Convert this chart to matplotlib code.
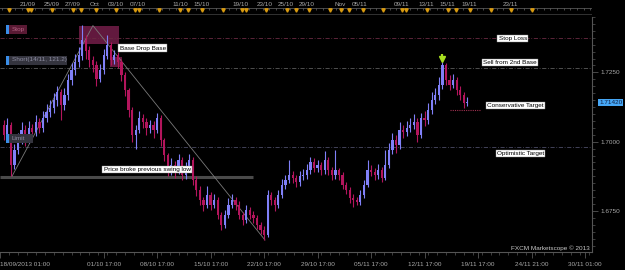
import numpy as np
import matplotlib
matplotlib.use("Agg")
import matplotlib.pyplot as plt
from matplotlib.patches import Rectangle

# ---------------- data (8h candles) ----------------
close = [1.7023, 1.7059, 1.6915, 1.6969, 1.7005, 1.7041, 1.7005, 1.7048, 1.7034, 1.7070,
         1.7048, 1.7084, 1.7106, 1.7120, 1.7149, 1.7178, 1.7131, 1.7167, 1.7221, 1.7257,
         1.7286, 1.7311, 1.7365, 1.7329, 1.7293, 1.7275, 1.7228, 1.7257, 1.7311, 1.7347,
         1.7293, 1.7311, 1.7286, 1.7239, 1.7185, 1.7113, 1.7023, 1.7041, 1.7084, 1.7070,
         1.7048, 1.7059, 1.7041, 1.7084, 1.7005, 1.6951, 1.6897, 1.6915, 1.6897, 1.6933,
         1.6879, 1.6904, 1.6933, 1.6861, 1.6825, 1.6789, 1.6771, 1.6807, 1.6771, 1.6789,
         1.6735, 1.6699, 1.6735, 1.6771, 1.6789, 1.6771, 1.6735, 1.6717, 1.6753, 1.6735,
         1.6724, 1.6699, 1.6681, 1.6663, 1.6807, 1.6789, 1.6771, 1.6807, 1.6843, 1.6861,
         1.6879, 1.6868, 1.6854, 1.6875, 1.6879, 1.6897, 1.6926, 1.6904, 1.6915, 1.6897,
         1.6933, 1.6897, 1.6879, 1.6897, 1.6879, 1.6843, 1.6825, 1.6796, 1.6789, 1.6782,
         1.6807, 1.6843, 1.6897, 1.6890, 1.6879, 1.6897, 1.6868, 1.6915, 1.6969, 1.7005,
         1.6987, 1.7041, 1.7034, 1.7048, 1.7059, 1.7070, 1.7023, 1.7084, 1.7077, 1.7113,
         1.7149, 1.7167, 1.7203, 1.7275, 1.7221, 1.7203, 1.7221, 1.7185, 1.7167, 1.7138,
         1.7142]
high = [1.7080, 1.7085, 1.7070, 1.6990, 1.7030, 1.7070, 1.7060, 1.7075, 1.7065, 1.7095,
        1.7085, 1.7110, 1.7135, 1.7150, 1.7175, 1.7200, 1.7190, 1.7195, 1.7245, 1.7285,
        1.7315, 1.7340, 1.7420, 1.7385, 1.7345, 1.7310, 1.7290, 1.7280, 1.7335, 1.7385,
        1.7360, 1.7330, 1.7325, 1.7300, 1.7250, 1.7195, 1.7125, 1.7060, 1.7110, 1.7100,
        1.7085, 1.7080, 1.7075, 1.7105, 1.7095, 1.7015, 1.6960, 1.6940, 1.6930, 1.6955,
        1.6945, 1.6925, 1.6955, 1.6945, 1.6875, 1.6840, 1.6800, 1.6840, 1.6820, 1.6810,
        1.6800, 1.6745, 1.6755, 1.6795, 1.6810, 1.6800, 1.6785, 1.6745, 1.6770, 1.6765,
        1.6750, 1.6735, 1.6710, 1.6695, 1.6825, 1.6820, 1.6800, 1.6825, 1.6865, 1.6880,
        1.6935, 1.6895, 1.6880, 1.6895, 1.6900, 1.6920, 1.6945, 1.6940, 1.6935, 1.6925,
        1.6965, 1.6945, 1.6910, 1.6970, 1.6905, 1.6890, 1.6855, 1.6835, 1.6810, 1.6800,
        1.6825, 1.6860, 1.6935, 1.6915, 1.6905, 1.6920, 1.6910, 1.6970, 1.6995, 1.7030,
        1.7025, 1.7070, 1.7060, 1.7075, 1.7085, 1.7100, 1.7085, 1.7105, 1.7110, 1.7140,
        1.7180, 1.7195, 1.7235, 1.7286, 1.7285, 1.7240, 1.7245, 1.7235, 1.7200, 1.7180,
        1.7160]
low = [1.7005, 1.7000, 1.6876, 1.6900, 1.6955, 1.6990, 1.6985, 1.6995, 1.7010, 1.7020,
       1.7030, 1.7035, 1.7070, 1.7090, 1.7105, 1.7130, 1.7080, 1.7115, 1.7150, 1.7205,
       1.7240, 1.7270, 1.7295, 1.7300, 1.7270, 1.7250, 1.7200, 1.7215, 1.7245, 1.7300,
       1.7275, 1.7280, 1.7265, 1.7220, 1.7165, 1.7090, 1.7000, 1.6975, 1.7030, 1.7050,
       1.7025, 1.7030, 1.7015, 1.7030, 1.6985, 1.6930, 1.6875, 1.6880, 1.6870, 1.6885,
       1.6860, 1.6865, 1.6890, 1.6845, 1.6805, 1.6770, 1.6750, 1.6760, 1.6755, 1.6760,
       1.6720, 1.6681, 1.6690, 1.6725, 1.6760, 1.6755, 1.6720, 1.6700, 1.6705, 1.6720,
       1.6705, 1.6685, 1.6665, 1.6645, 1.6655, 1.6770, 1.6750, 1.6760, 1.6795, 1.6830,
       1.6850, 1.6850, 1.6835, 1.6840, 1.6860, 1.6865, 1.6885, 1.6890, 1.6890, 1.6880,
       1.6885, 1.6880, 1.6860, 1.6865, 1.6860, 1.6830, 1.6810, 1.6780, 1.6765, 1.6770,
       1.6770, 1.6795, 1.6835, 1.6875, 1.6860, 1.6865, 1.6855, 1.6860, 1.6905, 1.6955,
       1.6960, 1.6975, 1.7015, 1.7020, 1.7035, 1.7045, 1.7000, 1.7015, 1.7055, 1.7065,
       1.7100, 1.7135, 1.7150, 1.7190, 1.7205, 1.7185, 1.7195, 1.7170, 1.7150, 1.7120,
       1.7130]
first_open = 1.7059
opens = [first_open] + close[:-1]

# price levels / drawings
stop_loss = 1.7376
sell_level = 1.7266
limit_level = 1.6982
swing_low = 1.6874
cons_target = 1.7113
current_price = 1.71420
trend_u = [5.6, 51.0, 147.5]
trend_p = [1.6875, 1.7419, 1.6645]

# axis labels
bottom_ticks = [-1, 57, 87, 117, 147, 177, 207, 237, 267, 297, 327]
bottom_labels = ["18/09/2013 01:00", "01/10 17:00", "08/10 17:00", "15/10 17:00",
                 "22/10 17:00", "29/10 17:00", "05/11 17:00", "12/11 17:00",
                 "19/11 17:00", "24/11 21:00", "30/11 01:00"]
top_pos = [14.6, 28.0, 39.8, 52.2, 63.9, 76.3, 99.8, 112.2, 134.0, 147.5, 159.3,
           171.1, 189.6, 200.8, 224.3, 237.8, 249.6, 261.9, 284.9]
top_labels = ["21/09", "25/09", "27/09", "Oct", "03/10", "07/10", "11/10", "15/10",
              "19/10", "23/10", "25/10", "29/10", "Nov", "05/11", "09/11", "13/11",
              "15/11", "19/11", "23/11"]
events = [3.9, 14.6, 16.3, 28.0, 39.8, 44.3, 52.7, 63.9, 74.6, 76.8, 88.1, 99.8, 104.3,
          112.2, 123.9, 134.6, 136.8, 148.1, 159.8, 164.9, 172.2, 184.0, 190.1, 194.6,
          202.5, 213.7, 224.3, 226.6, 238.4, 250.1, 254.6, 262.5, 274.3, 285.5, 297.3]

# ---------------- figure ----------------
W, H = 625, 270
fig = plt.figure(figsize=(W / 100, H / 100), dpi=100, facecolor="black")
FONT = "Liberation Sans"
GREY = "#a8a8a8"

def fx(px):
    return px / W

def fy(py):
    return 1 - py / H

ax = fig.add_axes([0, fy(252), fx(592), (252 - 17) / H])
ax.set_facecolor("black")
XMIN, XMAX = -1.12, 330.9
ax.set_xlim(XMIN, XMAX)
ax.set_ylim(1.66018, 1.74478)

x = np.arange(len(close)) * 2 + 1
o = np.array(opens); c = np.array(close); h = np.array(high); l = np.array(low)
bull = c >= o
BULL, BEAR = "#8080f8", "#b3155c"
cols = np.where(bull, BULL, BEAR)

# zones (behind candles)
ax.add_patch(Rectangle((43.2, 1.7354), 22.4, 0.0065, facecolor="#6e1c46", edgecolor="none", alpha=0.9, zorder=1))
ax.add_patch(Rectangle((60.6, 1.7271), 6.7, 0.0036, facecolor="#6e1c46", edgecolor="none", alpha=0.9, zorder=1))

# horizontal levels
dd = (0, (5, 2, 1, 2))
ax.axhline(stop_loss, color="#6a2a42", lw=0.6, ls=dd, zorder=2)
ax.axhline(sell_level, color="#5c5c5c", lw=0.6, ls=dd, zorder=2)
ax.axhline(limit_level, color="#4c4c66", lw=0.6, ls=dd, zorder=2)
ax.plot([XMIN, 140.8], [swing_low, swing_low], color="#4a4a4a", lw=2.2, zorder=2, solid_capstyle="butt")
ax.plot([251, 268], [cons_target, cons_target], color="#a03050", lw=0.8, ls=(0, (1, 1)), zorder=2)

# trend lines
ax.plot(trend_u, trend_p, color="#7a7a7a", lw=0.6, zorder=2)

# candles
ax.vlines(x, l, h, colors=cols, lw=0.8, zorder=3)
ax.bar(x, np.abs(c - o) + 0.00012, bottom=np.minimum(o, c), width=1.25, color=cols, zorder=3, linewidth=0)

# arrow marker at top
ax.plot([246.5], [1.7300], marker="v", color="#a8e020", markersize=4, zorder=5)
ax.plot([246.5, 246.5], [1.7303, 1.7318], color="#a8e020", lw=1.6, zorder=5, solid_capstyle="butt")

# annotation boxes
def wbox(u, p, s, fs=4.6):
    ax.text(u, p, s, fontsize=fs, family=FONT, color="black", va="center", ha="left", zorder=6,
            bbox=dict(boxstyle="square,pad=0.2", fc="white", ec="#888888", lw=0.3))

wbox(66.0, 1.7338, "Base Drop Base")
wbox(57.0, 1.6899, "Price broke previous swing low")
wbox(278.5, 1.7372, "Stop Loss")
wbox(270.0, 1.7286, "Sell from 2nd Base")
wbox(272.0, 1.7131, "Conservative Target")
wbox(277.5, 1.6958, "Optimistic Target")

# left order tags
for (py, s, fc, tc, wpx) in [(29.5, "Stop", "#5a1a34", "#b06080", 21),
                             (60, "Short(14/11, 121.2)", "#34343e", "#8c8ca0", 61),
                             (138, "Limit", "#34343e", "#8c8ca0", 27)]:
    fig.patches.append(Rectangle((fx(6), fy(py + 4.5)), fx(wpx), 9 / H, transform=fig.transFigure,
                                 facecolor=fc, edgecolor="none", zorder=5))
    fig.patches.append(Rectangle((fx(6), fy(py + 4.5)), fx(2.5), 9 / H, transform=fig.transFigure,
                                 facecolor="#3a8ee8", edgecolor="none", zorder=6))
    fig.text(fx(11.5), fy(py), s, fontsize=4.6, family=FONT, color=tc, va="center", ha="left", zorder=7)

# axes styling
for s in ["left", "top"]:
    ax.spines[s].set_visible(False)
for s in ["bottom", "right"]:
    ax.spines[s].set_color("#555555")
    ax.spines[s].set_linewidth(0.8)
ax.yaxis.tick_right()
ax.set_yticks([1.6750, 1.7000, 1.7250], ["1.6750", "1.7000", "1.7250"])
ax.set_yticks(np.arange(1.6625, 1.7450, 0.0025), minor=True)
ax.tick_params(axis="y", which="major", direction="out", length=4, width=0.6, color="#555555",
               labelcolor=GREY, labelsize=4.6, pad=2)
ax.tick_params(axis="y", which="minor", direction="out", length=2, width=0.5, color="#555555")
for t in ax.get_yticklabels():
    t.set_family(FONT)

ax.set_xticks(bottom_ticks, bottom_labels)
ax.set_xticks(np.arange(-1, 331, 5), minor=True)
ax.tick_params(axis="x", which="major", direction="out", length=4.5, width=0.6, color="#555555",
               labelcolor=GREY, labelsize=4.6, pad=2.5)
ax.tick_params(axis="x", which="minor", direction="out", length=2, width=0.5, color="#555555")
labs = ax.get_xticklabels()
for t in labs:
    t.set_family(FONT)
labs[0].set_horizontalalignment("left")

# current price box
ax.text(1.012, current_price, "1.71420", transform=ax.get_yaxis_transform(), fontsize=4.6, family=FONT,
        color="#0c1c40", va="center", ha="left", zorder=8,
        bbox=dict(boxstyle="square,pad=0.15", fc="#46a6f4", ec="none"))

# watermark
fig.text(fx(590), fy(248), "FXCM Marketscope \u00a9 2013", fontsize=4.6, family=FONT, color="#c8c8c8",
         ha="right", va="center")

# ---------------- top date ruler ----------------
axt = fig.add_axes([0, fy(17), fx(592), 17 / H], sharex=ax)
axt.set_facecolor("black")
axt.set_ylim(17, 0)
axt.axis("off")
axt.plot([XMIN, XMAX], [8.3, 8.3], color="#4a4a4a", lw=0.7)
axt.plot([XMIN, XMAX], [13.8, 13.8], color="#3a3a3a", lw=0.6)
ruler = np.arange(0, 331, 3.75)
axt.vlines(ruler, 8.3, 10.3, colors="#6a6a6a", lw=0.5)
axt.plot(events, [10.4] * len(events), ls="none", marker="v", color="#d89a10", markersize=2.4)
for p, s in zip(top_pos, top_labels):
    axt.text(p, 4.0, s, fontsize=4.6, family=FONT, color=GREY, ha="center", va="center")

fig.savefig("out.png", dpi=100, facecolor="black")
